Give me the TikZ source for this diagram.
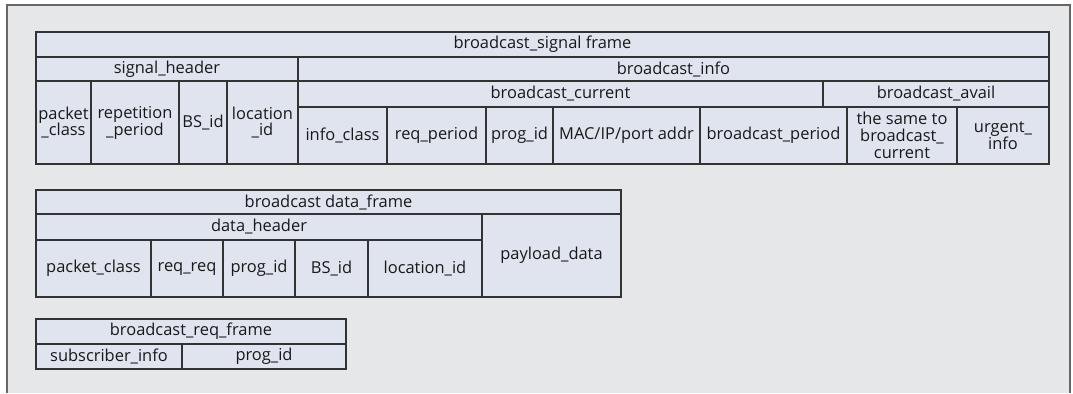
\documentclass[tikz,border=0pt]{standalone}
\usepackage{fontspec}
\setmainfont{Open Sans}
\definecolor{cellfill}{HTML}{E0E4EF}
\definecolor{bgfill}{HTML}{E6E7E9}
\definecolor{edge}{HTML}{333333}
\newcommand{\cellbox}[6]{%
  \pgfmathsetmacro{\cw}{#4-#2}\pgfmathsetmacro{\ch}{#5-#3}%
  \node[cellbx, minimum width=\cw bp, minimum height=\ch bp] (#1) at ({(#2+#4)/2},{(#3+#5)/2}) {#6};}
\begin{document}
\begin{tikzpicture}[x=1bp,y=-1bp,
  cellbx/.style={draw=edge, line width=1.4bp, fill=cellfill, inner sep=0pt, outer sep=0pt,
    align=center, font=\fontsize{16.5}{17}\selectfont, text=black!90},
]
\useasboundingbox (0,0) rectangle (1073,393);
\fill[bgfill] (7,5) rectangle (1070,393);
\draw[black!60, line width=2bp] (7,393) -- (7,5) -- (1070,5) -- (1070,393);
% broadcast_signal frame
\cellbox{sf}{36}{32}{1049}{57}{broadcast\_signal frame}
\cellbox{sh}{36}{57}{298}{81}{signal\_header}
\cellbox{bi}{298}{57}{1049}{81}{broadcast\_info}
\cellbox{bc}{298}{81}{823}{107}{broadcast\_current}
\cellbox{ba}{823}{81}{1049}{107}{broadcast\_avail}
\cellbox{pc}{36}{81}{91}{164}{packet\\\_class}
\cellbox{rp}{91}{81}{179}{164}{repetition\\\_period}
\cellbox{bs}{179}{81}{227}{164}{BS\_id}
\cellbox{li}{227}{81}{298}{164}{location\\\_id}
\cellbox{ic}{298}{107}{387}{164}{info\_class}
\cellbox{rq}{387}{107}{486}{164}{req\_period}
\cellbox{pg}{486}{107}{553}{164}{prog\_id}
\cellbox{ma}{553}{107}{700}{164}{MAC/IP/port addr}
\cellbox{bp}{700}{107}{847}{164}{broadcast\_period}
\cellbox{ts}{847}{107}{957}{164}{the same to\\broadcast\_\\current}
\cellbox{ui}{957}{107}{1049}{164}{urgent\_\\info}
% broadcast data_frame
\cellbox{df}{36}{190}{621}{214}{broadcast data\_frame}
\cellbox{dh}{36}{214}{482}{240}{data\_header}
\cellbox{pd}{482}{214}{621}{297}{payload\_data}
\cellbox{dpc}{36}{240}{151}{297}{packet\_class}
\cellbox{drr}{151}{240}{223}{297}{req\_req}
\cellbox{dpg}{223}{240}{295}{297}{prog\_id}
\cellbox{dbs}{295}{240}{368}{297}{BS\_id}
\cellbox{dli}{368}{240}{482}{297}{location\_id}
% broadcast_req_frame
\cellbox{rf}{36}{319}{346}{344}{broadcast\_req\_frame}
\cellbox{si}{36}{344}{182}{369}{subscriber\_info}
\cellbox{rpg}{182}{344}{346}{369}{prog\_id}
\end{tikzpicture}
\end{document}
